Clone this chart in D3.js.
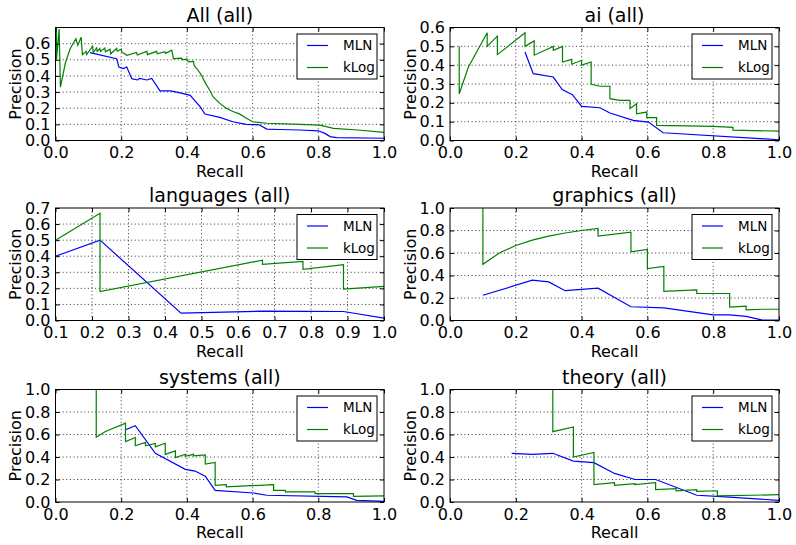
<!DOCTYPE html>
<html><head><meta charset="utf-8">
<script src="https://cdn.jsdelivr.net/npm/d3@7"></script>
<style>
body{margin:0;background:#fff;}
svg{font-family:"DejaVu Sans",sans-serif;}
</style></head>
<body><svg id="c" width="796" height="545"></svg>
<script>
// ---------- DATA ----------
const titles = ["All (all)", "ai (all)", "languages (all)", "graphics (all)", "systems (all)", "theory (all)"];
const seriesNames = ["MLN", "kLog"];

const allMLN = [[0.105,0.544],[0.186,0.507],[0.193,0.455],[0.206,0.445],[0.217,0.455],[0.232,0.383],[0.25,0.375],[0.256,0.385],[0.278,0.375],[0.293,0.385],[0.318,0.307],[0.35,0.307],[0.369,0.30],[0.389,0.29],[0.41,0.28],[0.44,0.21],[0.455,0.164],[0.50,0.143],[0.54,0.116],[0.58,0.10],[0.62,0.097],[0.643,0.071],[0.68,0.068],[0.744,0.065],[0.80,0.06],[0.82,0.044],[0.836,0.024],[0.856,0.018],[1.0,0.014]];
const allKLog = [[0.003,1.0],[0.003,0.5],[0.011,0.69],[0.015,0.33],[0.03,0.48],[0.045,0.57],[0.062,0.63],[0.068,0.59],[0.078,0.64],[0.082,0.532],[0.093,0.552],[0.095,0.532],[0.113,0.585],[0.115,0.545],[0.125,0.573],[0.127,0.552],[0.135,0.57],[0.137,0.552],[0.15,0.573],[0.152,0.55],[0.166,0.566],[0.168,0.537],[0.186,0.57],[0.188,0.553],[0.20,0.566],[0.202,0.549],[0.217,0.528],[0.247,0.545],[0.249,0.53],[0.278,0.552],[0.28,0.532],[0.308,0.552],[0.31,0.537],[0.333,0.55],[0.335,0.54],[0.354,0.56],[0.359,0.507],[0.384,0.51],[0.386,0.5],[0.40,0.505],[0.404,0.487],[0.42,0.49],[0.422,0.465],[0.43,0.446],[0.445,0.404],[0.45,0.38],[0.46,0.343],[0.47,0.31],[0.48,0.27],[0.50,0.23],[0.52,0.20],[0.54,0.18],[0.56,0.165],[0.58,0.14],[0.60,0.116],[0.643,0.107],[0.744,0.10],[0.805,0.095],[0.846,0.075],[0.92,0.065],[1.0,0.05]];

const aiMLN = [[0.228,0.47],[0.253,0.355],[0.314,0.337],[0.341,0.27],[0.372,0.243],[0.40,0.181],[0.456,0.174],[0.486,0.146],[0.557,0.107],[0.603,0.098],[0.648,0.041],[1.0,0.004]];
const aiKLog = [[0.028,0.50],[0.028,0.248],[0.056,0.39],[0.081,0.47],[0.113,0.572],[0.113,0.50],[0.144,0.554],[0.144,0.456],[0.228,0.572],[0.228,0.50],[0.256,0.529],[0.256,0.453],[0.314,0.50],[0.314,0.479],[0.342,0.50],[0.342,0.417],[0.37,0.431],[0.37,0.405],[0.40,0.426],[0.40,0.40],[0.429,0.417],[0.429,0.298],[0.456,0.288],[0.486,0.288],[0.486,0.222],[0.517,0.213],[0.547,0.213],[0.547,0.169],[0.567,0.195],[0.567,0.142],[0.598,0.151],[0.598,0.121],[0.628,0.121],[0.628,0.08],[0.72,0.078],[0.80,0.075],[0.86,0.07],[0.86,0.055],[1.0,0.05]];

const langMLN = [[0.1,0.40],[0.222,0.50],[0.444,0.046],[0.667,0.058],[0.889,0.056],[1.0,0.015]];
const langKLog = [[0.1,0.50],[0.222,0.667],[0.222,0.18],[0.667,0.375],[0.667,0.35],[0.778,0.368],[0.778,0.318],[0.889,0.348],[0.889,0.195],[1.0,0.212]];

const graphMLN = [[0.1,0.224],[0.25,0.358],[0.3,0.343],[0.35,0.265],[0.45,0.287],[0.55,0.122],[0.65,0.113],[0.8,0.05],[0.85,0.05],[0.9,0.036],[0.95,0.003],[1.0,0.003]];
const graphKLog = [[0.1,1.0],[0.1,0.5],[0.15,0.6],[0.2,0.667],[0.25,0.714],[0.3,0.75],[0.35,0.778],[0.4,0.8],[0.45,0.818],[0.45,0.75],[0.55,0.786],[0.55,0.611],[0.6,0.632],[0.6,0.462],[0.65,0.481],[0.65,0.26],[0.75,0.273],[0.75,0.24],[0.85,0.24],[0.85,0.12],[0.9,0.127],[0.9,0.095],[0.95,0.1],[1.0,0.1]];

const sysMLN = [[0.213,0.642],[0.243,0.678],[0.304,0.433],[0.395,0.29],[0.425,0.275],[0.456,0.23],[0.486,0.104],[0.603,0.08],[0.643,0.06],[0.887,0.045],[0.917,0.015],[1.0,0.006]];
const sysKLog = [[0.124,1.0],[0.124,0.576],[0.152,0.627],[0.213,0.70],[0.213,0.537],[0.243,0.573],[0.243,0.50],[0.274,0.53],[0.274,0.50],[0.304,0.52],[0.304,0.49],[0.334,0.522],[0.334,0.424],[0.365,0.454],[0.365,0.394],[0.395,0.424],[0.395,0.406],[0.42,0.424],[0.42,0.41],[0.456,0.418],[0.456,0.337],[0.486,0.352],[0.486,0.149],[0.52,0.155],[0.52,0.134],[0.664,0.155],[0.664,0.104],[0.70,0.104],[0.70,0.09],[0.79,0.09],[0.79,0.075],[0.907,0.075],[0.907,0.05],[1.0,0.055]];

const thMLN = [[0.1875,0.433],[0.25,0.424],[0.3125,0.433],[0.375,0.364],[0.4375,0.35],[0.5,0.254],[0.5625,0.2],[0.625,0.2],[0.75,0.06],[0.8125,0.05],[1.0,0.015]];
const thKLog = [[0.3125,1.0],[0.3125,0.625],[0.375,0.667],[0.375,0.40],[0.4375,0.44],[0.4375,0.155],[0.5,0.173],[0.5,0.149],[0.5625,0.164],[0.5625,0.155],[0.625,0.173],[0.625,0.11],[0.6875,0.119],[0.6875,0.10],[0.75,0.11],[0.75,0.095],[0.8125,0.10],[0.8125,0.054],[1.0,0.065]];

const ticks01 = [0,0.2,0.4,0.6,0.8,1.0];
const ticksLangX = [0.1,0.2,0.3,0.4,0.5,0.6,0.7,0.8,0.9,1.0];
const ticksY06 = [0,0.1,0.2,0.3,0.4,0.5,0.6];
const ticksY07 = [0,0.1,0.2,0.3,0.4,0.5,0.6,0.7];

// ---------- LAYOUT ----------
const colors = ["#0000ff", "#008000"];
const cols = [[55.5,384],[450,779]];
const rows = [[27.5,140.5],[208,320.5],[389.5,502]];

const panels = [
  {title:titles[0], mln:allMLN,  klog:allKLog,  xd:[0,1],   yd:[0,0.7], xt:ticks01,    yt:ticksY06, r:0,c:0},
  {title:titles[1], mln:aiMLN,   klog:aiKLog,   xd:[0,1],   yd:[0,0.6], xt:ticks01,    yt:ticksY06, r:0,c:1},
  {title:titles[2], mln:langMLN, klog:langKLog, xd:[0.1,1], yd:[0,0.7], xt:ticksLangX, yt:ticksY07, r:1,c:0},
  {title:titles[3], mln:graphMLN,klog:graphKLog,xd:[0,1],   yd:[0,1],   xt:ticks01,    yt:ticks01,  r:1,c:1},
  {title:titles[4], mln:sysMLN,  klog:sysKLog,  xd:[0,1],   yd:[0,1],   xt:ticks01,    yt:ticks01,  r:2,c:0},
  {title:titles[5], mln:thMLN,   klog:thKLog,   xd:[0,1],   yd:[0,1],   xt:ticks01,    yt:ticks01,  r:2,c:1}
];

const svg = d3.select("#c");
const fmt = d3.format(".1f");

panels.forEach((p,i)=>{
  const [x0,x1] = cols[p.c], [y0,y1] = rows[p.r];
  const x = d3.scaleLinear().domain(p.xd).range([x0,x1]);
  const y = d3.scaleLinear().domain(p.yd).range([y1,y0]);
  const g = svg.append("g");

  g.append("clipPath").attr("id","clip"+i).append("rect")
    .attr("x",x0).attr("y",y0).attr("width",x1-x0).attr("height",y1-y0);

  // grid
  p.xt.forEach(v=>{ const px=x(v); if(px>x0+1 && px<x1-1)
    g.append("line").attr("x1",px).attr("x2",px).attr("y1",y0).attr("y2",y1)
     .attr("stroke","#000").attr("stroke-width",0.8).attr("stroke-dasharray","1,2.6"); });
  p.yt.forEach(v=>{ const py=y(v); if(py>y0+1 && py<y1-1)
    g.append("line").attr("x1",x0).attr("x2",x1).attr("y1",py).attr("y2",py)
     .attr("stroke","#000").attr("stroke-width",0.8).attr("stroke-dasharray","1,2.6"); });

  // lines
  const line = d3.line().x(d=>x(d[0])).y(d=>y(d[1]));
  [p.mln,p.klog].forEach((d,k)=>{
    g.append("path").datum(d).attr("d",line).attr("fill","none")
      .attr("stroke",colors[k]).attr("stroke-width",1.2)
      .attr("clip-path","url(#clip"+i+")");
  });

  // axes
  const ax = (gen, tr)=>{
    const a = g.append("g").attr("transform",tr).call(gen);
    a.select(".domain").remove();
    a.selectAll("line").attr("stroke","#000");
    a.selectAll("text").attr("font-size",16).attr("fill","#000").attr("font-family","DejaVu Sans");
    return a;
  };
  ax(d3.axisBottom(x).tickValues(p.xt).tickFormat(fmt).tickSizeInner(-4).tickSizeOuter(0).tickPadding(6.5),`translate(0,${y1})`);
  ax(d3.axisTop(x).tickValues(p.xt).tickFormat("").tickSizeInner(-4).tickSizeOuter(0),`translate(0,${y0})`);
  ax(d3.axisLeft(y).tickValues(p.yt).tickFormat(fmt).tickSizeInner(-4).tickSizeOuter(0).tickPadding(5),`translate(${x0},0)`);
  ax(d3.axisRight(y).tickValues(p.yt).tickFormat("").tickSizeInner(-4).tickSizeOuter(0),`translate(${x1},0)`);

  // frame
  g.append("rect").attr("x",x0).attr("y",y0).attr("width",x1-x0).attr("height",y1-y0)
    .attr("fill","none").attr("stroke","#000").attr("stroke-width",1);

  // title and labels
  g.append("text").attr("x",(x0+x1)/2).attr("y",y0-6).attr("text-anchor","middle")
    .attr("font-size",19).text(p.title);
  g.append("text").attr("x",(x0+x1)/2).attr("y",y1+36).attr("text-anchor","middle")
    .attr("font-size",16).text("Recall");
  g.append("text").attr("transform",`translate(${x0-34.5},${(y0+y1)/2}) rotate(-90)`)
    .attr("text-anchor","middle").attr("font-size",16).text("Precision");

  // legend
  const lx = x1-87, ly = y0+6.5;
  g.append("rect").attr("x",lx).attr("y",ly).attr("width",80).attr("height",45)
    .attr("fill","#fff").attr("stroke","#000").attr("stroke-width",1);
  seriesNames.forEach((n,k)=>{
    const yy = ly + 11.5 + k*22;
    g.append("line").attr("x1",lx+10).attr("x2",lx+31).attr("y1",yy).attr("y2",yy)
      .attr("stroke",colors[k]).attr("stroke-width",1.2);
    g.append("text").attr("x",lx+46).attr("y",yy).attr("dy","0.36em")
      .attr("font-size",13.5).text(n);
  });
});
</script></body></html>
